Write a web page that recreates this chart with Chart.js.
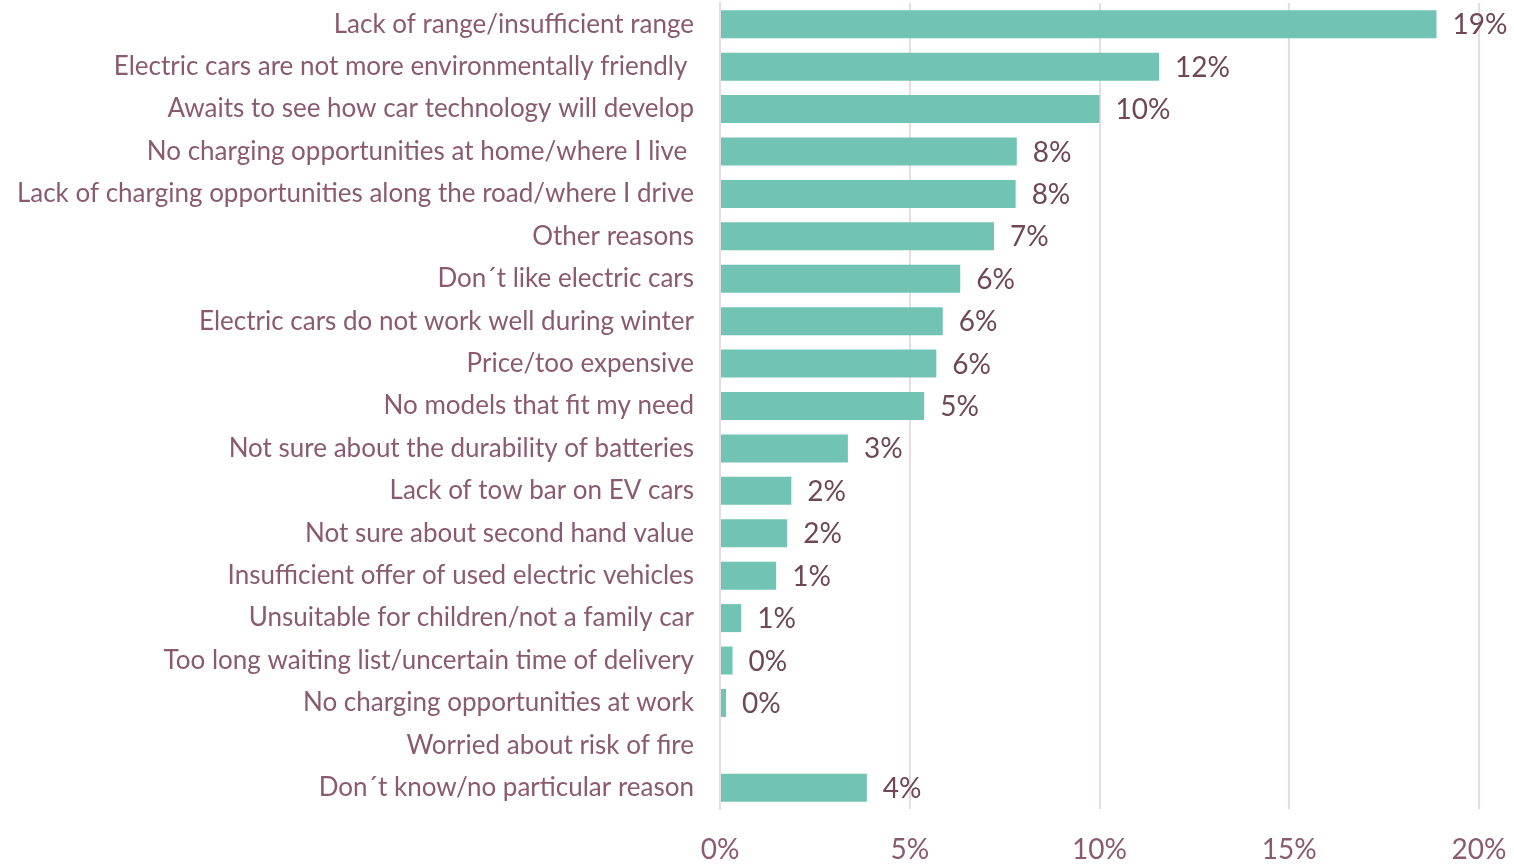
<!DOCTYPE html>
<html>
<head>
<meta charset="utf-8">
<script src="https://cdn.jsdelivr.net/npm/chart.js@4.4.1/dist/chart.umd.min.js"></script>
<style>
html,body{margin:0;padding:0;background:#fff;}
#wrap{width:1514px;height:865px;position:relative;}
</style>
</head>
<body>
<div id="wrap"><canvas id="c"></canvas></div>
<script>
const categories = [
  "Lack of range/insufficient range",
  "Electric cars are not more environmentally friendly ",
  "Awaits to see how car technology will develop",
  "No charging opportunities at home/where I live ",
  "Lack of charging opportunities along the road/where I drive",
  "Other reasons",
  "Don´t like electric cars",
  "Electric cars do not work well during winter",
  "Price/too expensive",
  "No models that fit my need",
  "Not sure about the durability of batteries",
  "Lack of tow bar on EV cars",
  "Not sure about second hand value",
  "Insufficient offer of used electric vehicles",
  "Unsuitable for children/not a family car",
  "Too long waiting list/uncertain time of delivery",
  "No charging opportunities at work",
  "Worried about risk of fire",
  "Don´t know/no particular reason"
];
const shares = [18.88, 11.57, 10.0, 7.82, 7.79, 7.22, 6.33, 5.87, 5.70, 5.38, 3.37, 1.88, 1.77, 1.48, 0.56, 0.33, 0.16, null, 3.87];
const xTicks = [0, 5, 10, 15, 20];

const FONT = "Lato, 'Open Sans', sans-serif";
const barColor = '#71c4b4';
const labelColor = '#8b5a70';
const valueColor = '#6f4757';
const gridColor = '#e8dbe1';

const valueLabels = {
  id: 'valueLabels',
  afterDatasetsDraw(chart) {
    const ctx = chart.ctx;
    const meta = chart.getDatasetMeta(0);
    ctx.save();
    ctx.font = "28px " + FONT;
    ctx.fillStyle = valueColor;
    ctx.textAlign = 'left';
    ctx.textBaseline = 'middle';
    meta.data.forEach((bar, i) => {
      const v = shares[i];
      if (v === null || v === undefined) return;
      ctx.fillText(Math.round(v) + '%', bar.x + 16, bar.y + 1);
    });
    ctx.restore();
  }
};

new Chart(document.getElementById('c'), {
  type: 'bar',
  data: {
    labels: categories,
    datasets: [{
      data: shares,
      backgroundColor: barColor,
      borderWidth: 0,
      categoryPercentage: 1,
      barPercentage: 0.66
    }]
  },
  options: {
    indexAxis: 'y',
    responsive: true,
    maintainAspectRatio: false,
    animation: false,
    layout: { padding: { top: 3, right: 35, bottom: 0, left: 0 } },
    plugins: { legend: { display: false }, tooltip: { enabled: false } },
    scales: {
      x: {
        min: 0, max: 20,
        afterBuildTicks(scale) { scale.ticks = xTicks.map(v => ({ value: v })); },
        afterFit(scale) {
          scale.height = 56;
          scale.paddingLeft = 0; scale.paddingRight = 0;
        },
        grid: { color: gridColor, lineWidth: 2, drawTicks: false },
        border: { display: false },
        ticks: {
          padding: 24,
          color: labelColor,
          font: { family: FONT, size: 28 },
          callback: v => v + '%'
        }
      },
      y: {
        afterFit(scale) {
          scale.width = 720;
          scale.paddingTop = 0; scale.paddingBottom = 0;
        },
        grid: { display: false, drawTicks: false },
        border: { display: true, color: gridColor, width: 2 },
        ticks: {
          padding: 26,
          color: labelColor,
          font: { family: FONT, size: 26 },
          autoSkip: false
        }
      }
    }
  },
  plugins: [valueLabels]
});
</script>
</body>
</html>
